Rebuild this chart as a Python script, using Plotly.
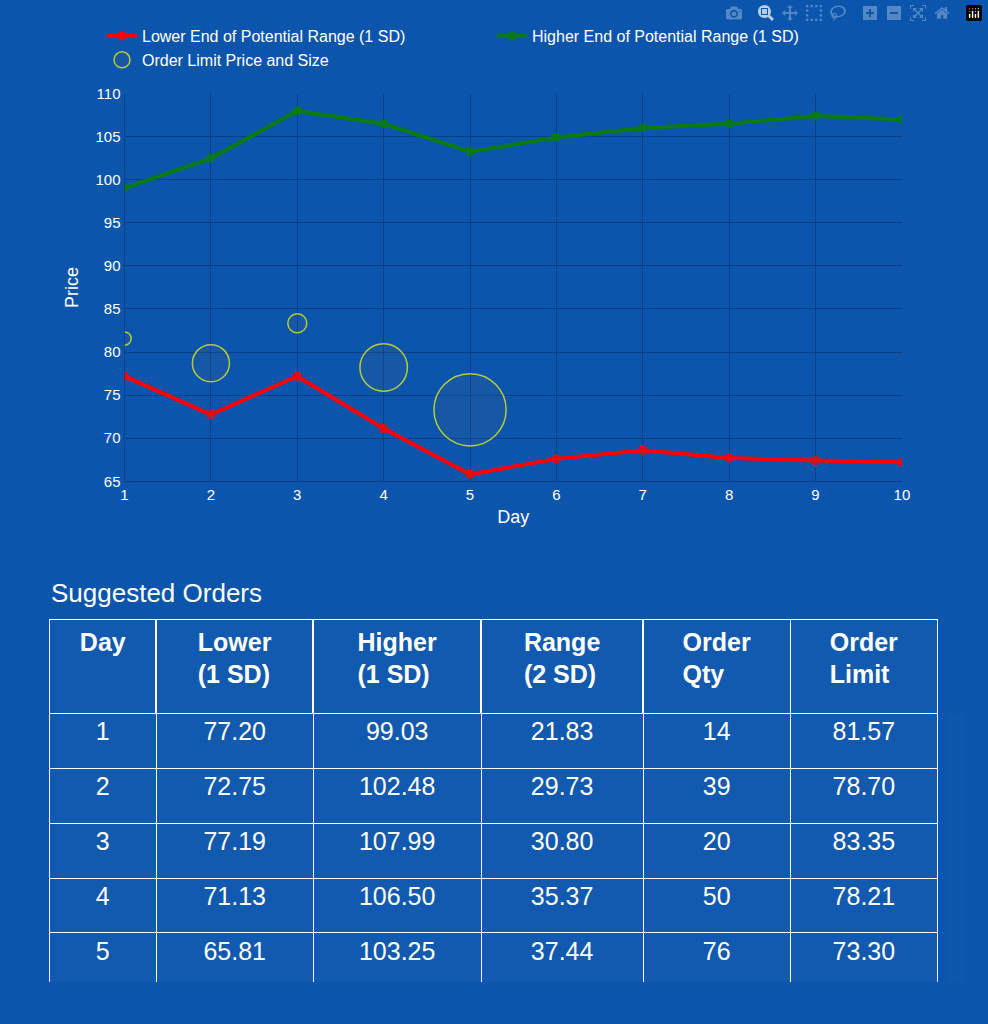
import plotly.graph_objects as go

days = [1, 2, 3, 4, 5, 6, 7, 8, 9, 10]
lower = [77.20, 72.75, 77.19, 71.13, 65.81, 67.6, 68.6, 67.7, 67.4, 67.2]
higher = [99.03, 102.48, 107.99, 106.50, 103.25, 104.9, 106.0, 106.5, 107.4, 107.0]

order_days = [1, 2, 3, 4, 5]
order_qty = [14, 39, 20, 50, 76]
order_limit = [81.57, 78.70, 83.35, 78.21, 73.30]

range_2sd = [21.83, 29.73, 30.80, 35.37, 37.44]

font = "Liberation Sans, Arial, sans-serif"

fig = go.Figure()
fig.add_trace(go.Scatter(x=days, y=lower, mode="lines+markers", name="Lower End of Potential Range (1 SD)",
                         line=dict(color="#ff0000", width=4),
                         marker=dict(symbol="circle-open", size=7, color="#ff0000", line=dict(width=2))))
fig.add_trace(go.Scatter(x=days, y=higher, mode="lines+markers", name="Higher End of Potential Range (1 SD)",
                         line=dict(color="#0a7a12", width=4),
                         marker=dict(symbol="circle-open", size=7, color="#0a7a12", line=dict(width=2))))
fig.add_trace(go.Scatter(x=order_days, y=order_limit, mode="markers", name="Order Limit Price and Size",
                         marker=dict(size=[q * 0.95 for q in order_qty], sizemode="diameter",
                                     color="rgba(80,100,140,0.25)", line=dict(color="#ffff00", width=1.5))))

fig.add_trace(go.Table(
    domain=dict(x=[0.0466, 0.9565], y=[0.034, 0.3936]),
    columnwidth=[108, 159, 170, 164, 149, 149],
    header=dict(values=["<b>Day</b>", "<b>Lower<br>(1 SD)</b>", "<b>Higher<br>(1 SD)</b>",
                        "<b>Range<br>(2 SD)</b>", "<b>Order<br>Qty</b>", "<b>Order<br>Limit</b>"],
                fill_color="rgba(255,255,255,0.03)", line=dict(color="white", width=1.5),
                font=dict(color="white", size=25, family=font), align="center", height=94),
    cells=dict(values=[order_days, [f"{v:.2f}" for v in lower[:5]], [f"{v:.2f}" for v in higher[:5]],
                       [f"{v:.2f}" for v in range_2sd], order_qty, [f"{v:.2f}" for v in order_limit]],
               fill_color="rgba(255,255,255,0.03)", line=dict(color="white", width=1),
               font=dict(color="white", size=25, family=font), align="center", height=54.8),
))

grid = "rgba(0,0,30,0.25)"
fig.update_layout(
    width=988, height=1024,
    margin=dict(l=0, r=0, t=0, b=0),
    paper_bgcolor="#0b55ad", plot_bgcolor="rgba(0,0,0,0)",
    font=dict(family=font, color="white", size=15),
    xaxis=dict(domain=[0.1235, 0.920], range=[1, 10], dtick=1, title=dict(text="Day", standoff=8),
               gridcolor=grid, zeroline=False, linecolor=grid, tickfont=dict(size=15)),
    yaxis=dict(domain=[0.531, 0.916], range=[65, 110], dtick=5, title=dict(text="Price", standoff=12),
               gridcolor=grid, zeroline=False, linecolor=grid, tickfont=dict(size=15)),
    legend=dict(orientation="h", x=0.5, xanchor="center", y=0.99, yanchor="top",
                entrywidth=345, font=dict(size=16), bgcolor="rgba(0,0,0,0)"),
    annotations=[dict(text="Suggested Orders", x=0.0466, y=0.4035, xref="paper", yref="paper",
                      xanchor="left", yanchor="bottom", showarrow=False,
                      font=dict(size=26, color="white", family=font))],
)

fig.write_html("out.html", post_script="document.body.style.margin='0';document.body.style.background='#0b55ad';")
